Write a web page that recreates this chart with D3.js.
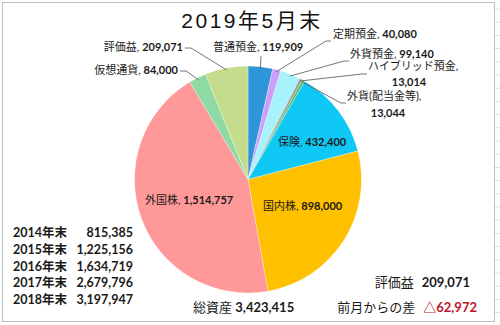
<!DOCTYPE html>
<html><head><meta charset="utf-8">
<script src="https://cdn.jsdelivr.net/npm/d3@7"></script>
<style>
html,body{margin:0;padding:0;background:#fff;}
svg{display:block;}
text{font-family:"Lato","Noto Sans CJK JP",sans-serif;}
</style></head>
<body>
<svg id="c" width="500" height="325"></svg>
<script>
const categories = ["普通預金","定期預金","外貨預金","ハイブリッド預金","外貨(配当金等)","保険","国内株","外国株","仮想通貨","評価益"];
const values = [119909,40080,99140,13014,13044,432400,898000,1514757,84000,209071];
const colors = ["#2E95D8","#CCA0FA","#A8F2FC","#9A9A9A","#5DBB63","#10C8F5","#FFC000","#FF9999","#8ED9A4","#C3DD8C"];
const historyYears = ["2014年末","2015年末","2016年末","2017年末","2018年末"];
const historyValues = [815385,1225156,1634719,2679796,3197947];
const titleText = "2019年5月末";
const gainValue = 209071;
const diffValue = 62972;

const svg = d3.select("#c");
const fmt = d3.format(",");

// excel grid lines at right
for (let y = 9; y < 325; y += 13.2) {
  svg.append("line").attr("x1",495).attr("x2",500).attr("y1",y).attr("y2",y).attr("stroke","#dcdcdc");
}
svg.append("rect").attr("x",2.5).attr("y",2.5).attr("width",492).attr("height",319)
  .attr("fill","#fff").attr("stroke","#bdbdbd").attr("stroke-width",1);

svg.append("text").attr("x",252).attr("y",28).attr("text-anchor","middle")
  .style("font-family","'Liberation Sans','Noto Sans CJK JP',sans-serif")
  .style("font-size","21px").style("letter-spacing","2.5px").attr("fill","#111").text(titleText);

const cx = 248, cy = 179.5, R = 113.5;
const g = svg.append("g").attr("transform",`translate(${cx},${cy})`);
const pie = d3.pie().sort(null).value(d=>d)(values);
const arc = d3.arc().innerRadius(0).outerRadius(R);
const arcEdge = d3.arc().innerRadius(R-2).outerRadius(R-2);
g.selectAll("path").data(pie).join("path").attr("d",arc)
  .attr("fill",(d,i)=>colors[i]).attr("stroke","#fff").attr("stroke-width",0.3);

// label layout (positions of texts)
const labelLayout = [
  {x:213, y:51, anchor:"start", lines:1, lx:261, ly:56, via:null},
  {x:333, y:38, anchor:"start", lines:1, lx:331, ly:41, via:[326,41]},
  {x:350, y:58, anchor:"start", lines:1, lx:349, ly:61, via:[344,61]},
  {x:368, y:70, anchor:"start", lines:2, lx:367, ly:74, via:[362,74], x2:409, dy:16},
  {x:347, y:100, anchor:"start", lines:2, lx:346, ly:103, via:[341,103], x2:388, dy:17},
  {x:278, y:146, anchor:"start", lines:1, inside:true},
  {x:263, y:210, anchor:"start", lines:1, inside:true},
  {x:145, y:204, anchor:"start", lines:1, inside:true},
  {x:178, y:74, anchor:"end", lines:1, lx:180, ly:71, via:[186,71]},
  {x:183, y:51, anchor:"end", lines:1, lx:185, ly:48, via:[191,48]}
];
const FS = "11px";
const lbl = svg.append("g");
pie.forEach((p,i)=>{
  const L = labelLayout[i];
  const t = lbl.append("text").attr("x",L.x).attr("y",L.y).attr("text-anchor",L.anchor)
    .style("font-size",FS).attr("fill","#1a1a1a");
  if (L.lines===1) {
    t.append("tspan").text(categories[i]+", ");
    t.append("tspan").style("font-weight","bold").text(fmt(values[i]));
  } else {
    t.text(categories[i]+",");
    lbl.append("text").attr("x",L.x2).attr("y",L.y+L.dy).attr("text-anchor","middle")
      .style("font-size",FS).style("font-weight","bold").attr("fill","#1a1a1a").text(fmt(values[i]));
  }
  if (!L.inside) {
    const c = arcEdge.centroid(p);
    const px = cx + c[0], py = cy + c[1];
    const pts = L.via ? [[L.lx,L.ly],L.via,[px,py]] : [[L.lx,L.ly],[px,py]];
    lbl.append("path").attr("d",d3.line()(pts)).attr("fill","none").attr("stroke","#666").attr("stroke-width",0.9);
  }
});

// history table
const hy = d3.scalePoint().domain(historyYears).range([237,304]);
const hist = svg.append("g");
historyYears.forEach((yr,i)=>{
  hist.append("text").attr("x",13).attr("y",hy(yr)).style("font-size","12.5px").style("font-weight","bold").attr("fill","#1a1a1a").text(yr);
  hist.append("text").attr("x",133).attr("y",hy(yr)).attr("text-anchor","end").style("font-size","12.5px").style("font-weight","bold").attr("fill","#1a1a1a").text(fmt(historyValues[i]));
});

const total = d3.sum(values);
const tt = svg.append("text").attr("x",193).attr("y",312).style("font-size","13px").attr("fill","#1a1a1a");
tt.append("tspan").text("総資産 ");
tt.append("tspan").style("font-weight","bold").text(fmt(total));

const ev = svg.append("text").attr("x",470).attr("y",287).attr("text-anchor","end").style("font-size","13px").attr("fill","#1a1a1a");
ev.append("tspan").text("評価益");
ev.append("tspan").attr("dx",8).style("font-weight","bold").text(fmt(gainValue));

const dv = svg.append("text").attr("x",477).attr("y",312).attr("text-anchor","end").style("font-size","13px").attr("fill","#1a1a1a");
dv.append("tspan").text("前月からの差");
dv.append("tspan").attr("dx",8).style("font-weight","bold").attr("fill","#C0142A").text("△"+fmt(diffValue));
</script>
</body></html>
